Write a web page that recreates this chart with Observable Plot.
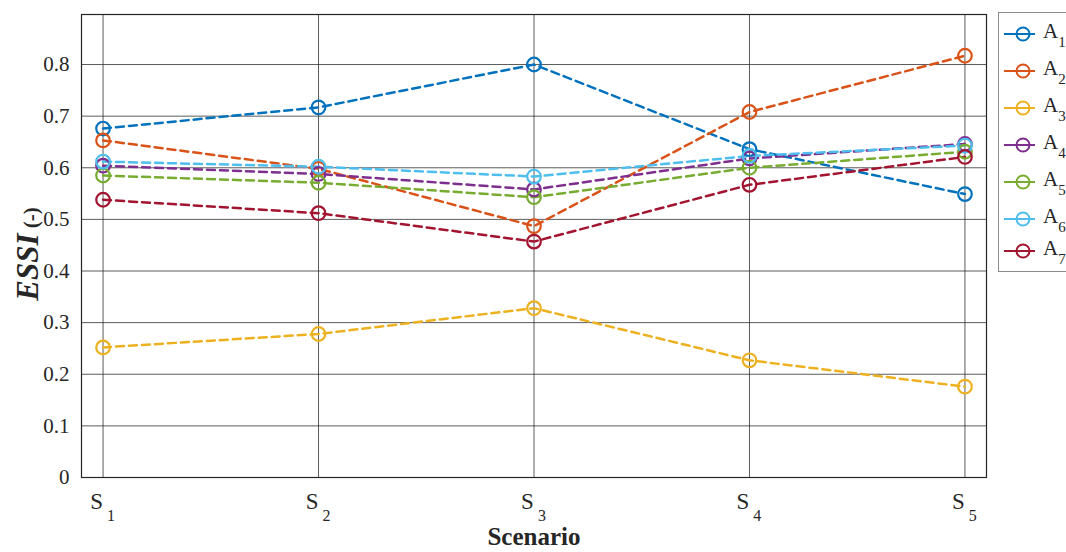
<!DOCTYPE html>
<html>
<head>
<meta charset="utf-8">
<script src="https://cdn.jsdelivr.net/npm/d3@7"></script>
<script src="https://cdn.jsdelivr.net/npm/@observablehq/plot@0.6"></script>
<style>
  body { margin: 0; background: #fff; }
  #wrap { position: relative; width: 1066px; height: 552px; overflow: hidden; font-family: "Liberation Serif", "Times New Roman", serif; }
  #legend { position: absolute; left: 998px; top: 12px; width: 80px; height: 260px; border: 1px solid #8c8c8c; background: #fff; box-sizing: border-box; }
</style>
</head>
<body>
<div id="wrap"><div id="chart"></div><div id="legend"></div></div>
<script>
// ---- data ----
const scenarioIndex = [1, 2, 3, 4, 5];
const scenarioNames = ["S1", "S2", "S3", "S4", "S5"];
const seriesNames = ["A1", "A2", "A3", "A4", "A5", "A6", "A7"];
const seriesColors = ["#0072BD", "#D95319", "#EDB120", "#7E2F8E", "#77AC30", "#4DBEEE", "#A2142F"];
const A1 = [0.676, 0.717, 0.800, 0.636, 0.549];
const A2 = [0.653, 0.598, 0.487, 0.708, 0.817];
const A3 = [0.252, 0.278, 0.328, 0.227, 0.176];
const A4 = [0.604, 0.588, 0.558, 0.618, 0.646];
const A5 = [0.585, 0.571, 0.543, 0.600, 0.631];
const A6 = [0.612, 0.602, 0.583, 0.623, 0.643];
const A7 = [0.538, 0.512, 0.457, 0.567, 0.621];
const seriesValues = [A1, A2, A3, A4, A5, A6, A7];
const yTicks = [0, 0.1, 0.2, 0.3, 0.4, 0.5, 0.6, 0.7, 0.8];

const rows = [];
seriesNames.forEach((name, i) => {
  scenarioIndex.forEach((s, j) => rows.push({series: name, x: s, y: seriesValues[i][j]}));
});

const font = '"Liberation Serif", "Times New Roman", serif';
const ink = "#262626";

const chart = Plot.plot({
  width: 1066,
  height: 552,
  marginLeft: 81,
  marginRight: 80,
  marginTop: 14,
  marginBottom: 75,
  style: {fontFamily: font, fontSize: "21px", color: ink, background: "#fff"},
  x: {domain: [0.9, 5.1], ticks: scenarioIndex, axis: null, label: null},
  y: {domain: [0, 0.8969], ticks: yTicks, tickFormat: d => String(+d.toFixed(1)), tickSize: 0, tickPadding: 12, label: null},
  color: {domain: seriesNames, range: seriesColors},
  marks: [
    Plot.gridX(scenarioIndex, {stroke: ink, strokeOpacity: 0.75, strokeWidth: 1}),
    Plot.gridY(yTicks, {stroke: ink, strokeOpacity: 0.75, strokeWidth: 1}),
    Plot.frame({stroke: ink, strokeWidth: 1.2}),
    Plot.line(rows, {x: "x", y: "y", z: "series", stroke: "series", strokeWidth: 2.5, strokeDasharray: "8,5"}),
    Plot.dot(rows, {x: "x", y: "y", stroke: "series", r: 6.8, strokeWidth: 2.2, fill: "none"})
  ]
});
document.getElementById("chart").appendChild(chart);

const svg = d3.select(chart);
const xs = chart.scale("x");
// x tick labels with subscripts, positioned via the plot's x scale
const xt = svg.append("g").attr("font-family", font).attr("fill", ink);
scenarioIndex.forEach((v, i) => {
  const name = scenarioNames[i];
  const t = xt.append("text").attr("x", xs.apply(v)).attr("y", 509).attr("text-anchor", "middle").attr("font-size", 23);
  t.append("tspan").text(name[0]);
  t.append("tspan").attr("dx", 4).attr("dy", 12).attr("font-size", 16).text(name.slice(1));
});
// axis titles
svg.append("text")
  .attr("x", 534).attr("y", 545)
  .attr("text-anchor", "middle")
  .attr("font-family", font).attr("font-size", 25).attr("font-weight", "bold").attr("fill", ink)
  .text("Scenario");
const yl = svg.append("text")
  .attr("transform", "translate(38,254) rotate(-90)")
  .attr("text-anchor", "middle")
  .attr("font-family", font).attr("font-weight", "bold").attr("fill", ink);
yl.append("tspan").attr("font-style", "italic").attr("font-size", 31).text("ESSI");
yl.append("tspan").attr("font-size", 21).text(" (-)");

// legend
const legendY = [21, 58, 95, 132, 169, 206, 238];
const lg = d3.select("#legend").append("svg").attr("width", 80).attr("height", 258);
seriesNames.forEach((name, i) => {
  const g = lg.append("g").attr("transform", `translate(0,${legendY[i]})`);
  g.append("line").attr("x1", 5).attr("x2", 36).attr("y1", 0).attr("y2", 0)
    .attr("stroke", seriesColors[i]).attr("stroke-width", 2);
  g.append("circle").attr("cx", 24).attr("cy", 0).attr("r", 6.5)
    .attr("fill", "none").attr("stroke", seriesColors[i]).attr("stroke-width", 2);
  const t = g.append("text").attr("x", 44).attr("y", 4)
    .attr("font-family", font).attr("font-size", 21).attr("fill", ink);
  t.append("tspan").text(name[0]);
  t.append("tspan").attr("dy", 9).attr("font-size", 15).text(name.slice(1));
});
</script>
</body>
</html>
